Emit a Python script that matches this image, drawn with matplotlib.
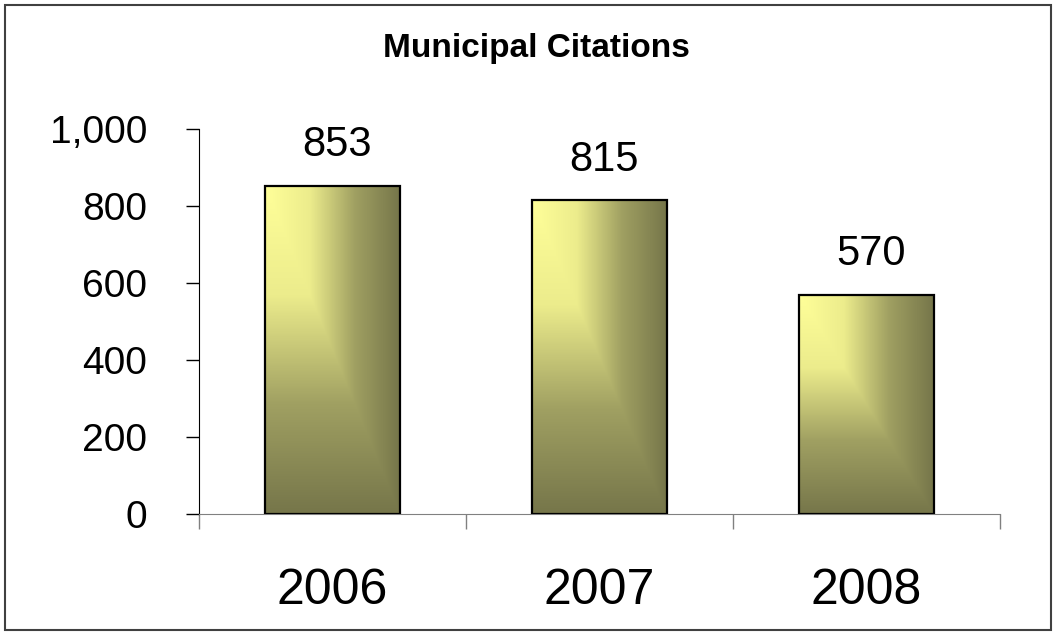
import numpy as np
import matplotlib
matplotlib.use("Agg")
import matplotlib.pyplot as plt
from matplotlib.colors import LinearSegmentedColormap
from matplotlib.patches import Rectangle

years = ["2006", "2007", "2008"]
citations = [853, 815, 570]
y_ticks = [0, 200, 400, 600, 800, 1000]

plt.rcParams['font.family'] = ['Liberation Sans', 'DejaVu Sans']

fig = plt.figure(figsize=(10.55, 6.34), dpi=100)
ax = fig.add_axes([199 / 1055, 120 / 634, 801 / 1055, 385 / 634])

# corner gradient: light yellow at top-left going to olive
cmap = LinearSegmentedColormap.from_list("olive", ["#ffff99", "#ecec8c", "#a0a062", "#76764a"])
gx, gy = np.meshgrid(np.linspace(0, 1, 200), np.linspace(0, 1, 400))
grad = np.maximum(gx, gy)

xpos = np.arange(len(years))
bars = ax.bar(xpos, citations, width=0.505, color="none", edgecolor="black", linewidth=1.6, zorder=3)
for b in bars:
    x0, w, h = b.get_x(), b.get_width(), b.get_height()
    im = ax.imshow(grad, cmap=cmap, extent=[x0, x0 + w, 0, h], aspect="auto", zorder=2,
                   interpolation="bilinear")
    im.set_clip_path(b)

for b, v in zip(bars, citations):
    ax.annotate(f"{v}", (b.get_x() + b.get_width() / 2, v), xytext=(3, 21),
                textcoords="offset points", ha="center", va="baseline", fontsize=30)

ax.set_xlim(-0.5, len(years) - 0.5)
ax.set_ylim(0, 1000)
ax.set_yticks(y_ticks)
ax.set_yticklabels([f"{t:,}" for t in y_ticks], fontsize=28)
ax.tick_params(axis="y", length=9.4, width=1, color="black", pad=28)

ax.set_xticks(np.arange(len(years) + 1) - 0.5)
ax.set_xticklabels([])
ax.set_xticks(xpos, minor=True)
ax.set_xticklabels(years, minor=True, fontsize=36)
ax.tick_params(axis="x", which="major", length=11, width=1, color="#808080")
ax.tick_params(axis="x", which="minor", length=0, pad=39)

for s in ["top", "right"]:
    ax.spines[s].set_visible(False)
ax.spines["left"].set_color("black")
ax.spines["bottom"].set_color("#808080")

fig.text(536 / 1055, 1 - 57 / 634, "Municipal Citations", ha="center", va="baseline",
         fontsize=24, fontweight="bold")

fig.patches.append(Rectangle((4.5 / 1055, 4 / 634), 1046 / 1055, 625 / 634,
                             transform=fig.transFigure, fill=False, edgecolor="#404040", linewidth=1.5))

fig.savefig("out.png", dpi=100)
